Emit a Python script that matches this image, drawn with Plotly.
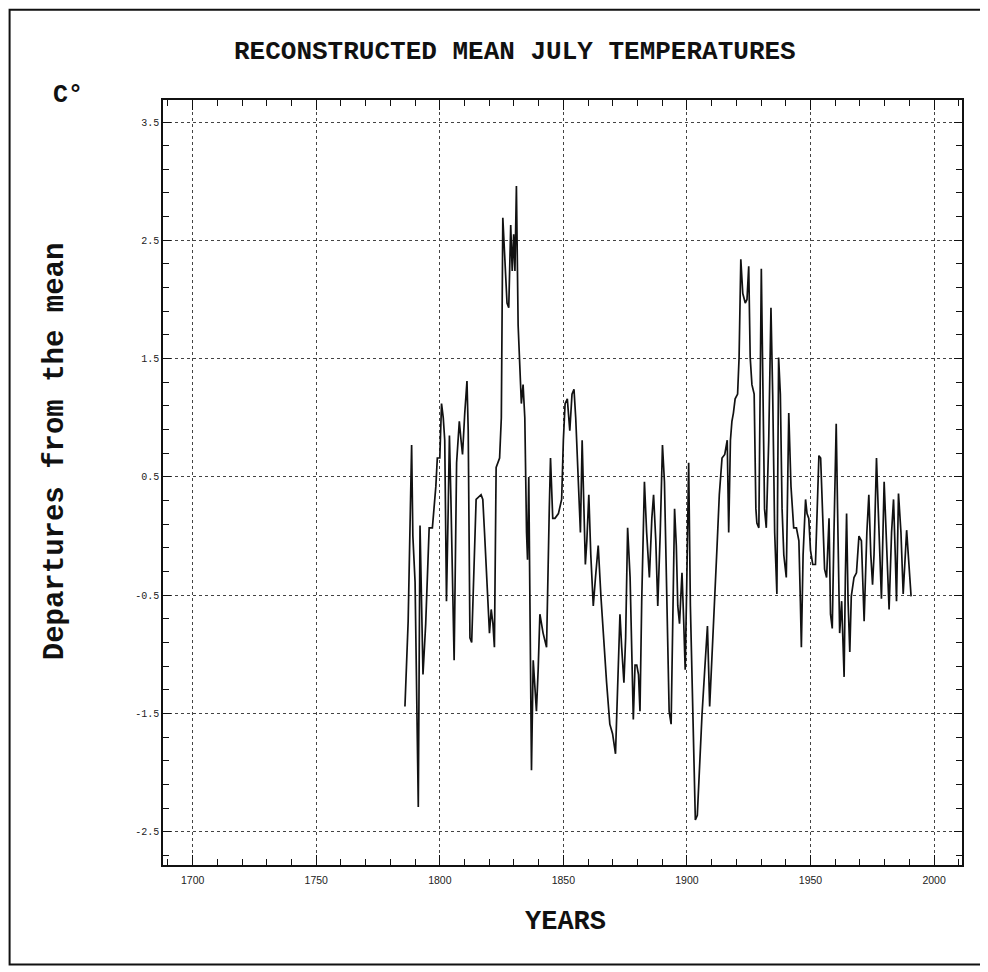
import plotly.graph_objects as go

# ---- data ----
years = [
    1785.9, 1787.2, 1788.6, 1789.1, 1790.0, 1790.9, 1791.3, 1792.0, 1792.7, 1793.2,
    1794.3, 1795.7, 1797.0, 1798.4, 1799.0, 1800.0, 1800.7, 1801.4, 1802.0, 1802.7,
    1803.4, 1803.9, 1804.5, 1805.2, 1805.8, 1806.8, 1807.9, 1808.6, 1809.2, 1810.1,
    1811.0, 1811.5, 1812.2, 1812.9, 1813.6, 1814.7, 1816.7, 1817.4, 1818.1, 1819.0,
    1820.1, 1820.8, 1821.5, 1822.1, 1822.8, 1824.2, 1824.9, 1825.5, 1826.4, 1827.2,
    1827.9, 1828.7, 1829.3, 1829.9, 1830.4, 1831.0, 1831.7, 1832.3, 1833.0, 1833.7,
    1834.4, 1835.1, 1835.5, 1836.0, 1836.4, 1837.1, 1837.8, 1838.5, 1839.1, 1839.8,
    1840.5, 1841.8, 1843.2, 1844.3, 1844.8, 1845.7, 1846.6, 1848.0, 1849.3, 1850.0,
    1850.7, 1851.6, 1852.6, 1853.5, 1854.3, 1855.0, 1855.7, 1856.2, 1856.9, 1857.6,
    1858.3, 1858.9, 1859.5, 1860.3, 1861.1, 1862.1, 1863.0, 1864.1, 1865.2, 1866.1,
    1867.5, 1868.8, 1869.9, 1871.1, 1872.0, 1872.9, 1873.6, 1874.5, 1875.2, 1876.0,
    1877.0, 1877.6, 1878.3, 1879.0, 1879.7, 1880.4, 1881.0, 1881.7, 1882.8, 1883.7,
    1884.8, 1885.8, 1886.5, 1887.4, 1888.2, 1889.2, 1890.1, 1890.9, 1891.9, 1892.8,
    1893.6, 1894.3, 1895.0, 1895.7, 1896.3, 1897.0, 1898.0, 1898.6, 1899.3, 1899.9,
    1900.7, 1901.4, 1902.3, 1903.4, 1904.2, 1905.1, 1906.1, 1907.2, 1908.3, 1909.2,
    1910.2, 1911.2, 1912.2, 1913.1, 1914.2, 1915.3, 1916.3, 1916.9, 1917.6, 1918.2,
    1918.8, 1919.5, 1920.5, 1921.1, 1921.8, 1922.6, 1923.6, 1924.3, 1925.0, 1925.6,
    1926.3, 1927.2, 1927.9, 1928.3, 1929.1, 1930.1, 1930.8, 1931.4, 1932.1, 1933.1,
    1934.0, 1934.7, 1935.5, 1936.4, 1937.1, 1937.8, 1938.5, 1939.2, 1940.2, 1941.2,
    1942.1, 1943.2, 1944.3, 1945.3, 1945.9, 1946.3, 1947.0, 1948.0, 1948.6, 1949.3,
    1950.0, 1950.9, 1952.0, 1952.7, 1953.4, 1954.1, 1954.9, 1955.7, 1956.5, 1957.5,
    1958.1, 1958.8, 1959.5, 1960.4, 1961.1, 1961.8, 1962.6, 1963.6, 1964.1, 1964.6,
    1965.2, 1965.9, 1966.5, 1967.6, 1968.6, 1969.6, 1970.6, 1971.7, 1972.8, 1973.6,
    1974.4, 1975.1, 1975.7, 1976.7, 1977.4, 1978.0, 1978.7, 1979.8, 1980.6, 1981.2,
    1981.8, 1982.8, 1983.6, 1984.3, 1984.8, 1985.6, 1986.6, 1987.5, 1988.2, 1988.9,
    1989.7, 1990.7,
]

departures = [
    -1.44, -0.72, 0.77, 0.00, -0.39, -1.52, -2.29, 0.09, -0.74, -1.17,
    -0.74, 0.07, 0.07, 0.42, 0.66, 0.66, 1.12, 1.00, 0.81, -0.55,
    0.23, 0.85, 0.31, -0.39, -1.05, 0.62, 0.97, 0.81, 0.69, 1.04,
    1.31, 0.89, -0.86, -0.90, -0.35, 0.31, 0.35, 0.31, 0.03, -0.35,
    -0.82, -0.62, -0.74, -0.94, 0.58, 0.66, 1.00, 2.69, 2.24, 1.97,
    1.93, 2.63, 2.24, 2.55, 2.24, 2.96, 1.78, 1.51, 1.12, 1.28,
    1.00, 0.03, -0.20, 0.50, -0.35, -1.98, -1.05, -1.32, -1.48, -1.13,
    -0.66, -0.82, -0.94, 0.23, 0.66, 0.15, 0.15, 0.19, 0.31, 0.81,
    1.12, 1.16, 0.89, 1.20, 1.24, 1.00, 0.66, 0.42, 0.03, 0.81,
    0.23, -0.24, -0.04, 0.35, -0.16, -0.59, -0.35, -0.08, -0.51, -0.82,
    -1.24, -1.59, -1.67, -1.84, -1.13, -0.66, -0.94, -1.24, -0.86, 0.07,
    -0.35, -0.82, -1.55, -1.09, -1.09, -1.17, -1.48, -0.55, 0.46, 0.03,
    -0.35, 0.15, 0.35, -0.04, -0.59, 0.03, 0.77, 0.46, -0.74, -1.48,
    -1.59, -0.74, 0.23, -0.08, -0.59, -0.74, -0.31, -0.66, -1.13, -0.43,
    0.62, -0.59, -1.51, -2.40, -2.36, -1.90, -1.51, -1.13, -0.76, -1.44,
    -0.94, -0.47, -0.08, 0.35, 0.66, 0.69, 0.81, 0.03, 0.81, 0.97,
    1.04, 1.16, 1.20, 1.51, 2.34, 2.05, 1.97, 2.00, 2.28, 1.51,
    1.28, 1.20, 0.23, 0.11, 0.07, 2.26, 1.20, 0.23, 0.07, 0.81,
    1.93, 1.20, 0.03, -0.49, 1.51, 1.20, 0.23, -0.16, -0.35, 1.04,
    0.42, 0.07, 0.07, -0.04, -0.55, -0.94, -0.16, 0.31, 0.19, 0.15,
    -0.12, -0.24, -0.24, 0.31, 0.68, 0.66, 0.11, -0.28, -0.35, 0.15,
    -0.66, -0.78, 0.03, 0.95, 0.03, -0.82, -0.55, -1.19, -0.35, 0.19,
    -0.55, -0.98, -0.51, -0.35, -0.31, 0.00, -0.04, -0.72, 0.03, 0.35,
    -0.16, -0.41, -0.16, 0.66, 0.23, -0.20, -0.53, 0.46, 0.03, -0.20,
    -0.62, 0.03, 0.31, -0.16, -0.55, 0.36, 0.03, -0.49, -0.20, 0.05,
    -0.20, -0.51,
]

x_tickvals = [1700, 1750, 1800, 1850, 1900, 1950, 2000]
x_ticktext = ["1700", "1750", "1800", "1850", "1900", "1950", "2000"]
y_tickvals = [-2.5, -1.5, -0.5, 0.5, 1.5, 2.5, 3.5]
y_ticktext = ["-2.5", "-1.5", "-0.5", "0.5", "1.5", "2.5", "3.5"]

title_text = "RECONSTRUCTED MEAN JULY TEMPERATURES"
y_title = "Departures from the mean"
x_title = "YEARS"
unit_text = "C°"

MONO = "Liberation Mono, Courier New, monospace"

fig = go.Figure()
fig.add_trace(go.Scatter(
    x=years, y=departures, mode="lines",
    line=dict(color="#111111", width=1.7),
    showlegend=False, hoverinfo="x+y",
))

axis_common = dict(
    showline=True, linecolor="#111111", linewidth=1.5, mirror="allticks",
    ticks="inside", tickcolor="#111111", tickwidth=1,
    showgrid=True, gridcolor="#444444", gridwidth=1, griddash="dot",
    zeroline=False,
)

fig.update_xaxes(
    range=[1688, 2011.3],
    tickmode="array", tickvals=x_tickvals, ticktext=x_ticktext, ticklen=10,
    tickfont=dict(family="Liberation Sans, Arial, sans-serif", size=10.5, color="#222222"),
    ticklabelstandoff=5,
    minor=dict(tick0=1700, dtick=10, ticks="inside", ticklen=6, tickcolor="#111111", showgrid=False),
    **axis_common,
)
fig.update_yaxes(
    range=[-2.78, 3.686],
    tickmode="array", tickvals=y_tickvals, ticktext=y_ticktext, ticklen=8,
    tickfont=dict(family=MONO, size=10, color="#222222"),
    minor=dict(tick0=-2.5, dtick=0.2, ticks="inside", ticklen=6, tickcolor="#111111", showgrid=False),
    **axis_common,
)

annotations = [
    dict(text="<b>" + title_text + "</b>", x=0.4405, y=1.063, xref="paper", yref="paper",
         showarrow=False, font=dict(family=MONO, size=26, color="#111111"),
         xanchor="center", yanchor="middle"),
    dict(text="<b>" + unit_text + "</b>", x=-0.119, y=1.0065, xref="paper", yref="paper",
         showarrow=False, font=dict(family=MONO, size=25, color="#111111"),
         xanchor="center", yanchor="middle"),
    dict(text="<b>" + y_title + "</b>", x=-0.135, y=0.541, xref="paper", yref="paper",
         showarrow=False, textangle=-90, font=dict(family=MONO, size=29, color="#111111"),
         xanchor="center", yanchor="middle"),
    dict(text="<b>" + x_title + "</b>", x=0.504, y=-0.0745, xref="paper", yref="paper",
         showarrow=False, font=dict(family=MONO, size=27, color="#111111"),
         xanchor="center", yanchor="middle"),
]

fig.update_layout(
    width=980, height=964,
    margin=dict(l=155, r=26, t=92, b=107),
    paper_bgcolor="white", plot_bgcolor="white",
    annotations=annotations,
    shapes=[dict(type="rect", xref="paper", yref="paper",
                 x0=-0.192, x1=1.024, y0=-0.13, y1=1.118,
                 line=dict(color="#111111", width=2), layer="above")],
)

fig.write_html("out.html")
